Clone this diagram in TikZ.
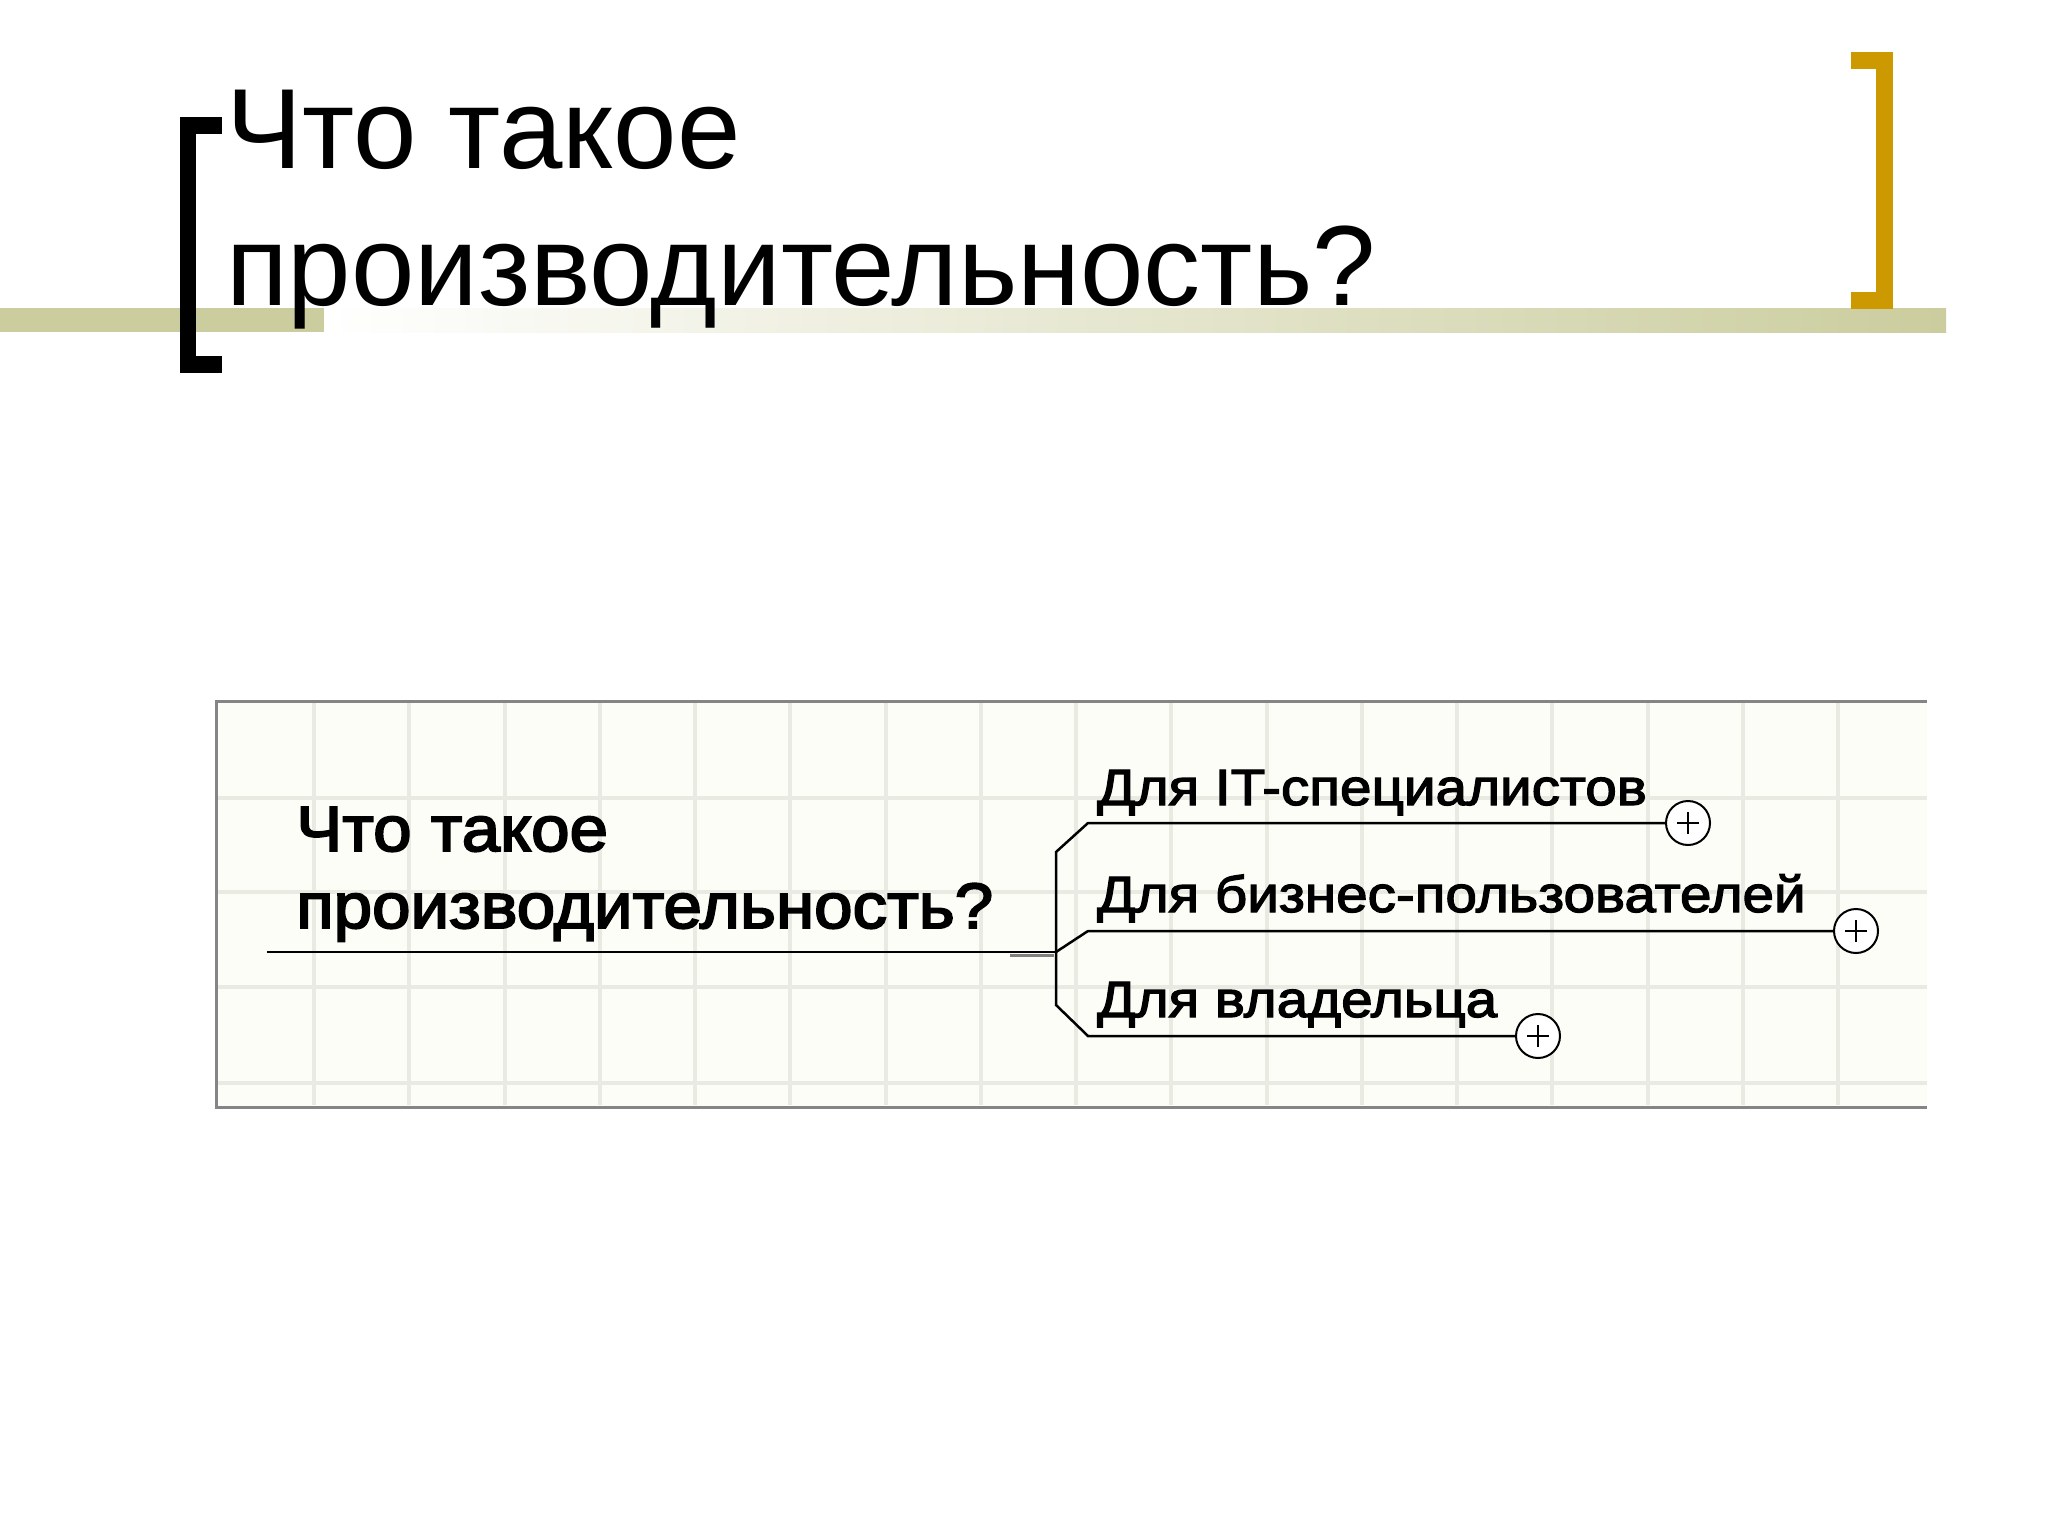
\documentclass[tikz,border=0pt]{standalone}
\usepackage{fontspec}
\setmainfont{Liberation Sans}
\newfontfamily\rootfont[FakeBold=3, FakeStretch=1.08]{Liberation Sans}
\newfontfamily\branchfont[FakeBold=2.5, FakeStretch=1.11]{Liberation Sans}
\definecolor{bandolive}{HTML}{CBCD9E}
\definecolor{goldbr}{HTML}{CC9900}
\definecolor{gridc}{HTML}{E9EBE3}
\definecolor{mapbg}{HTML}{FDFDF8}
\definecolor{boxgray}{HTML}{858585}
\tikzset{
  titletext/.style={anchor=base west, inner sep=0pt, font=\fontsize{114}{137}\selectfont},
  roottext/.style={anchor=base west, inner sep=0pt, font=\rootfont\fontsize{64}{77}\selectfont},
  branchtext/.style={anchor=base west, inner sep=0pt, font=\branchfont\fontsize{51}{60}\selectfont},
  gridline/.style={draw=gridc, line width=4pt},
  link/.style={draw=black, line width=2.5pt},
  plusnode/.style={circle, draw=black, line width=2pt, fill=white, minimum size=44pt, inner sep=0pt,
    path picture={\draw[line width=2pt] ([xshift=-11pt]path picture bounding box.center) -- ([xshift=11pt]path picture bounding box.center);
                  \draw[line width=2pt] ([yshift=-11pt]path picture bounding box.center) -- ([yshift=11pt]path picture bounding box.center);}}
}
\begin{document}
\begin{tikzpicture}[x=1pt,y=-1pt]
\useasboundingbox[fill=white] (0,0) rectangle (2048,1536);
% title band
\fill[bandolive] (0,308) rectangle (324,332);
\fill[left color=white, right color=bandolive] (324,308) rectangle (1946,332);
% left bracket
\fill[black] (180,117) rectangle (196,373);
\fill[black] (180,117) rectangle (222,134);
\fill[black] (180,356) rectangle (222,373);
% right bracket
\fill[goldbr] (1876,52) rectangle (1893,309);
\fill[goldbr] (1851,52) rectangle (1893,69);
\fill[goldbr] (1851,292) rectangle (1893,309);
% title
\node[titletext] (t1) at (226,168) {Что такое};
\node[titletext] (t2) at (226,305) {производительность?};
% map panel
\fill[mapbg] (216,701) rectangle (1927,1107);
\foreach \i in {0,...,16} { \draw[gridline] ({314+95.25*\i},703) -- ({314+95.25*\i},1105); }
\foreach \yy in {798,892,987,1083} { \draw[gridline] (218,\yy) -- (1927,\yy); }
\draw[boxgray, line width=3pt] (1927,701) -- (216,701) -- (216,1107) -- (1927,1107);
% root
\node[roottext] (r1) at (296,851) {Что такое};
\node[roottext] (r2) at (296,928) {производительность?};
\coordinate (rootL) at (267,952);
\coordinate (hub) at (1056,952);
\draw[link] (rootL) -- (hub);
\draw[gray, line width=3pt] (1010,955) -- (1054,955);
% branches
\node[branchtext] (b1) at (1097,805) {Для IT-специалистов};
\node[branchtext] (b2) at (1097,912) {Для бизнес-пользователей};
\node[branchtext] (b3) at (1097,1017) {Для владельца};
\node[plusnode] (c1) at (1688,823) {};
\node[plusnode] (c2) at (1856,931) {};
\node[plusnode] (c3) at (1538,1036) {};
\coordinate (vt) at (1056,852);
\coordinate (vb) at (1056,1005);
\draw[link] (hub) -- (vt) -- (1088,823) -- (c1.west);
\draw[link] (hub) -- (1088,931) -- (c2.west);
\draw[link] (hub) -- (vb) -- (1088,1036) -- (c3.west);
\end{tikzpicture}
\end{document}
